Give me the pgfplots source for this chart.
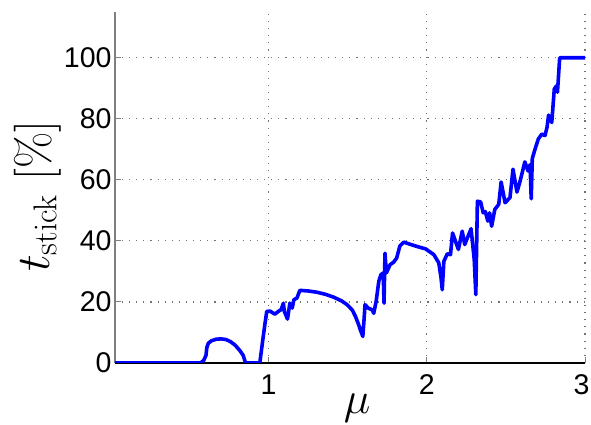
\documentclass[border=0pt]{standalone}
\usepackage{fix-cm}
\usepackage[no-math]{fontspec}
\setmainfont{Liberation Sans}
\usepackage{pgfplots}
\pgfplotsset{compat=1.18}
\begin{document}
\begin{tikzpicture}
\begin{axis}[
  at={(0,0)}, anchor=south west,
  scale only axis, width=470pt, height=351pt,
  xmin=0.03, xmax=3, ymin=0, ymax=115,
  axis x line*=bottom, axis y line*=left,
  x axis line style={black, line width=1.2pt},
  y axis line style={gray, line width=1.2pt},
  xtick={1,2,3}, xticklabels={1,2,\kern-7pt 3}, ytick={0,20,40,60,80,100},
  grid=major,
  major grid style={gray!90!black, line width=1.1pt, dash pattern=on 1.1pt off 6pt},
  tick align=inside, major tick length=6pt,
  every tick/.style={gray, line width=1pt},
  /pgf/number format/assume math mode=true,
  tick label style={font=\fontsize{28.5}{28.5}\selectfont},
  xticklabel style={yshift=-8pt},
  xlabel={$\mu$}, ylabel={$t_{\mathrm{stick}}\hspace{14pt}[\%]$},
  xlabel style={font=\fontsize{45}{45}\selectfont, at={(axis description cs:0.515,-0.13)}, anchor=center},
  ylabel style={font=\fontsize{47}{47}\selectfont, at={(axis description cs:-0.165,0.475)}, anchor=center},
]
\addplot[blue, line width=3.6pt, line join=round, no markers] coordinates {
(0.03,0)(0.57,0)(0.59,0.8)(0.605,2.5)(0.61,5)(0.62,6.5)(0.64,7.3)(0.67,7.8)(0.70,7.9)(0.73,7.7)(0.76,7.0)(0.79,5.8)(0.82,4)(0.84,2.5)(0.855,0)(0.945,0)(0.965,8)(0.978,13)(0.989,16.9)(1.01,17)(1.04,16)(1.062,16.9)(1.08,17.5)(1.094,19.6)(1.10,16.9)(1.12,14.4)(1.135,19.6)(1.15,18)(1.16,20.7)(1.18,21.3)(1.198,23.8)(1.25,23.6)(1.305,23.2)(1.36,22.5)(1.41,21.6)(1.46,20.4)(1.497,19.1)(1.53,17.3)(1.55,15.2)(1.57,12.5)(1.58,10.9)(1.596,8.7)(1.605,15.2)(1.61,19.1)(1.63,18)(1.655,17.4)(1.665,16.3)(1.68,20.1)(1.697,26.8)(1.71,28.9)(1.725,29.5)(1.73,19.6)(1.736,36)(1.745,29.5)(1.768,32.2)(1.79,33)(1.81,34.4)(1.83,38.3)(1.855,39.6)(1.9,38.8)(1.95,38)(1.992,37.4)(2.045,35.5)(2.076,32.8)(2.09,28)(2.098,24)(2.108,33.3)(2.13,35.8)(2.15,35.5)(2.163,42.6)(2.2,37.2)(2.224,43.2)(2.24,38.8)(2.26,41.4)(2.28,44)(2.3,33.9)(2.31,22.4)(2.32,53)(2.34,52.8)(2.357,49.2)(2.37,49.6)(2.386,46.5)(2.397,49.2)(2.41,44.8)(2.43,50.3)(2.455,52)(2.47,59.3)(2.495,52.5)(2.526,54.2)(2.545,63.5)(2.57,56)(2.59,59.6)(2.62,65.9)(2.64,62.9)(2.653,65)(2.66,53.8)(2.667,67)(2.684,70)(2.705,73.4)(2.727,75)(2.747,74.5)(2.76,77.2)(2.77,81.2)(2.79,78.8)(2.806,89.8)(2.82,90.8)(2.826,88.7)(2.84,100)(3,100)
};
\end{axis}
\pgfresetboundingbox
\useasboundingbox (-115pt,-62pt) rectangle (476pt,363pt);
\end{tikzpicture}
\end{document}
